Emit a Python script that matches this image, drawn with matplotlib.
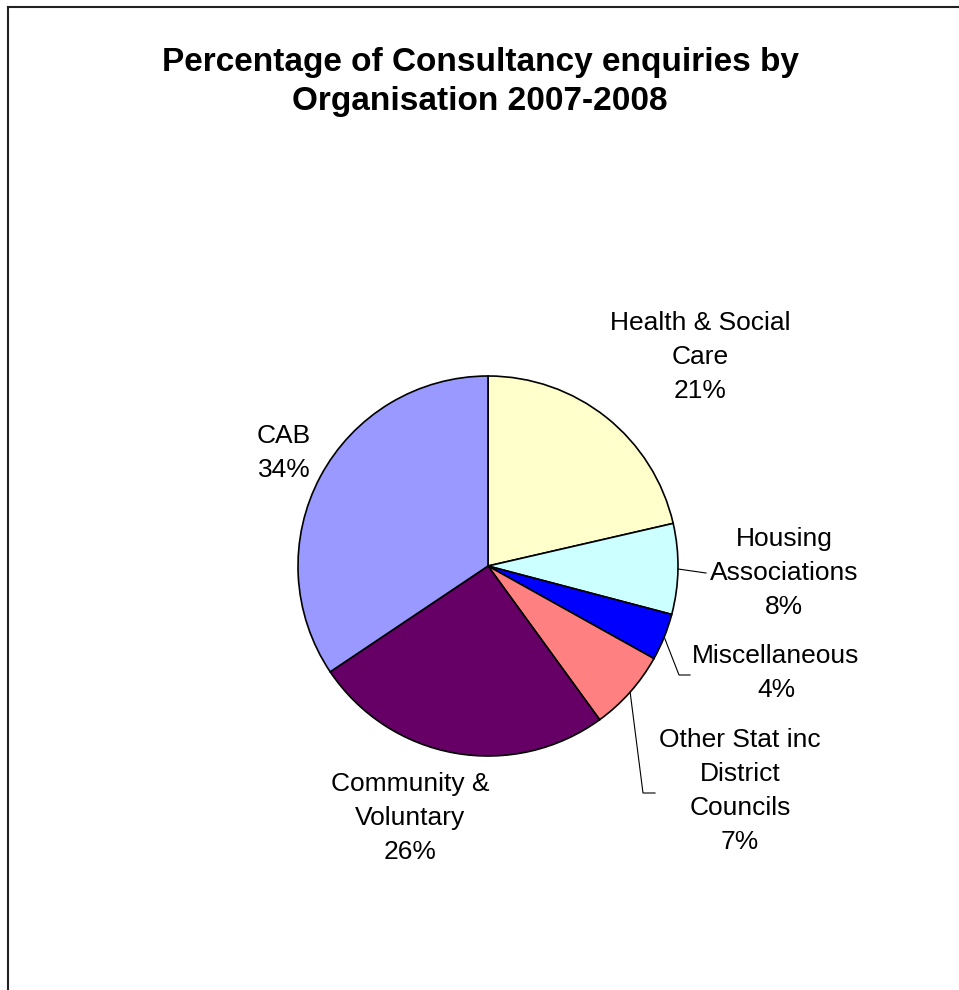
import matplotlib.pyplot as plt
from matplotlib.lines import Line2D
import numpy as np

plt.rcParams['font.family'] = ['Liberation Sans', 'DejaVu Sans']

# ---------------------------
# data
# ---------------------------
labels = ["Health & Social\nCare", "Housing\nAssociations", "Miscellaneous",
          "Other Stat inc\nDistrict\nCouncils", "Community &\nVoluntary", "CAB"]
values = [21.4, 7.7, 4.0, 6.9, 25.6, 34.4]
colors = ["#FFFFCC", "#CCFFFF", "#0000FF", "#FF8080", "#660066", "#9999FF"]

# label centre positions (pixels in the 959x990 image)
label_px = [(700, 357), (784, 573), (776, 673), (740, 791), (410, 818), (284, 453)]

W, H = 959, 990
cx, cy, r = 488, 566, 190

fig = plt.figure(figsize=(W / 100, H / 100), dpi=100)
ax = fig.add_axes([(cx - r) / W, 1 - (cy + r) / H, 2 * r / W, 2 * r / H])

wedges, _ = ax.pie(values, colors=colors, startangle=90, counterclock=False,
                   radius=1, wedgeprops=dict(edgecolor='black', linewidth=1.2))
ax.set_xlim(-1, 1)
ax.set_ylim(-1, 1)
ax.axis('off')


def to_data(px, py):
    return (px - cx) / r, (cy - py) / r


for lab, v, (px, py) in zip(labels, values, label_px):
    x, y = to_data(px, py)
    ax.text(x, y, f"{lab}\n{round(v)}%", ha='center', va='center', fontsize=19,
            linespacing=1.53, clip_on=False)

# leader lines
def edge_point(i):
    w = wedges[i]
    a = np.deg2rad((w.theta1 + w.theta2) / 2)
    return np.cos(a), np.sin(a)

leaders = {1: [(706, 573)], 2: [(679, 675), (690, 675)], 3: [(643, 793), (655, 793)]}
for i, pts in leaders.items():
    x0, y0 = edge_point(i)
    xs = [x0] + [to_data(px, py)[0] for px, py in pts]
    ys = [y0] + [to_data(px, py)[1] for px, py in pts]
    ax.plot(xs, ys, color='black', linewidth=0.8, clip_on=False)

fig.text(480 / W, 1 - 82 / H, "Percentage of Consultancy enquiries by\nOrganisation 2007-2008",
         ha='center', va='center', fontsize=24, fontweight='bold', linespacing=1.3)

# chart frame (left and top edges visible)
fig.add_artist(Line2D([7.5 / W, 7.5 / W], [0, 1 - 6.5 / H], color='#222222', linewidth=1.5))
fig.add_artist(Line2D([7.5 / W, 1], [1 - 6.5 / H, 1 - 6.5 / H], color='#222222', linewidth=1.5))

fig.savefig("out.png", dpi=100)
